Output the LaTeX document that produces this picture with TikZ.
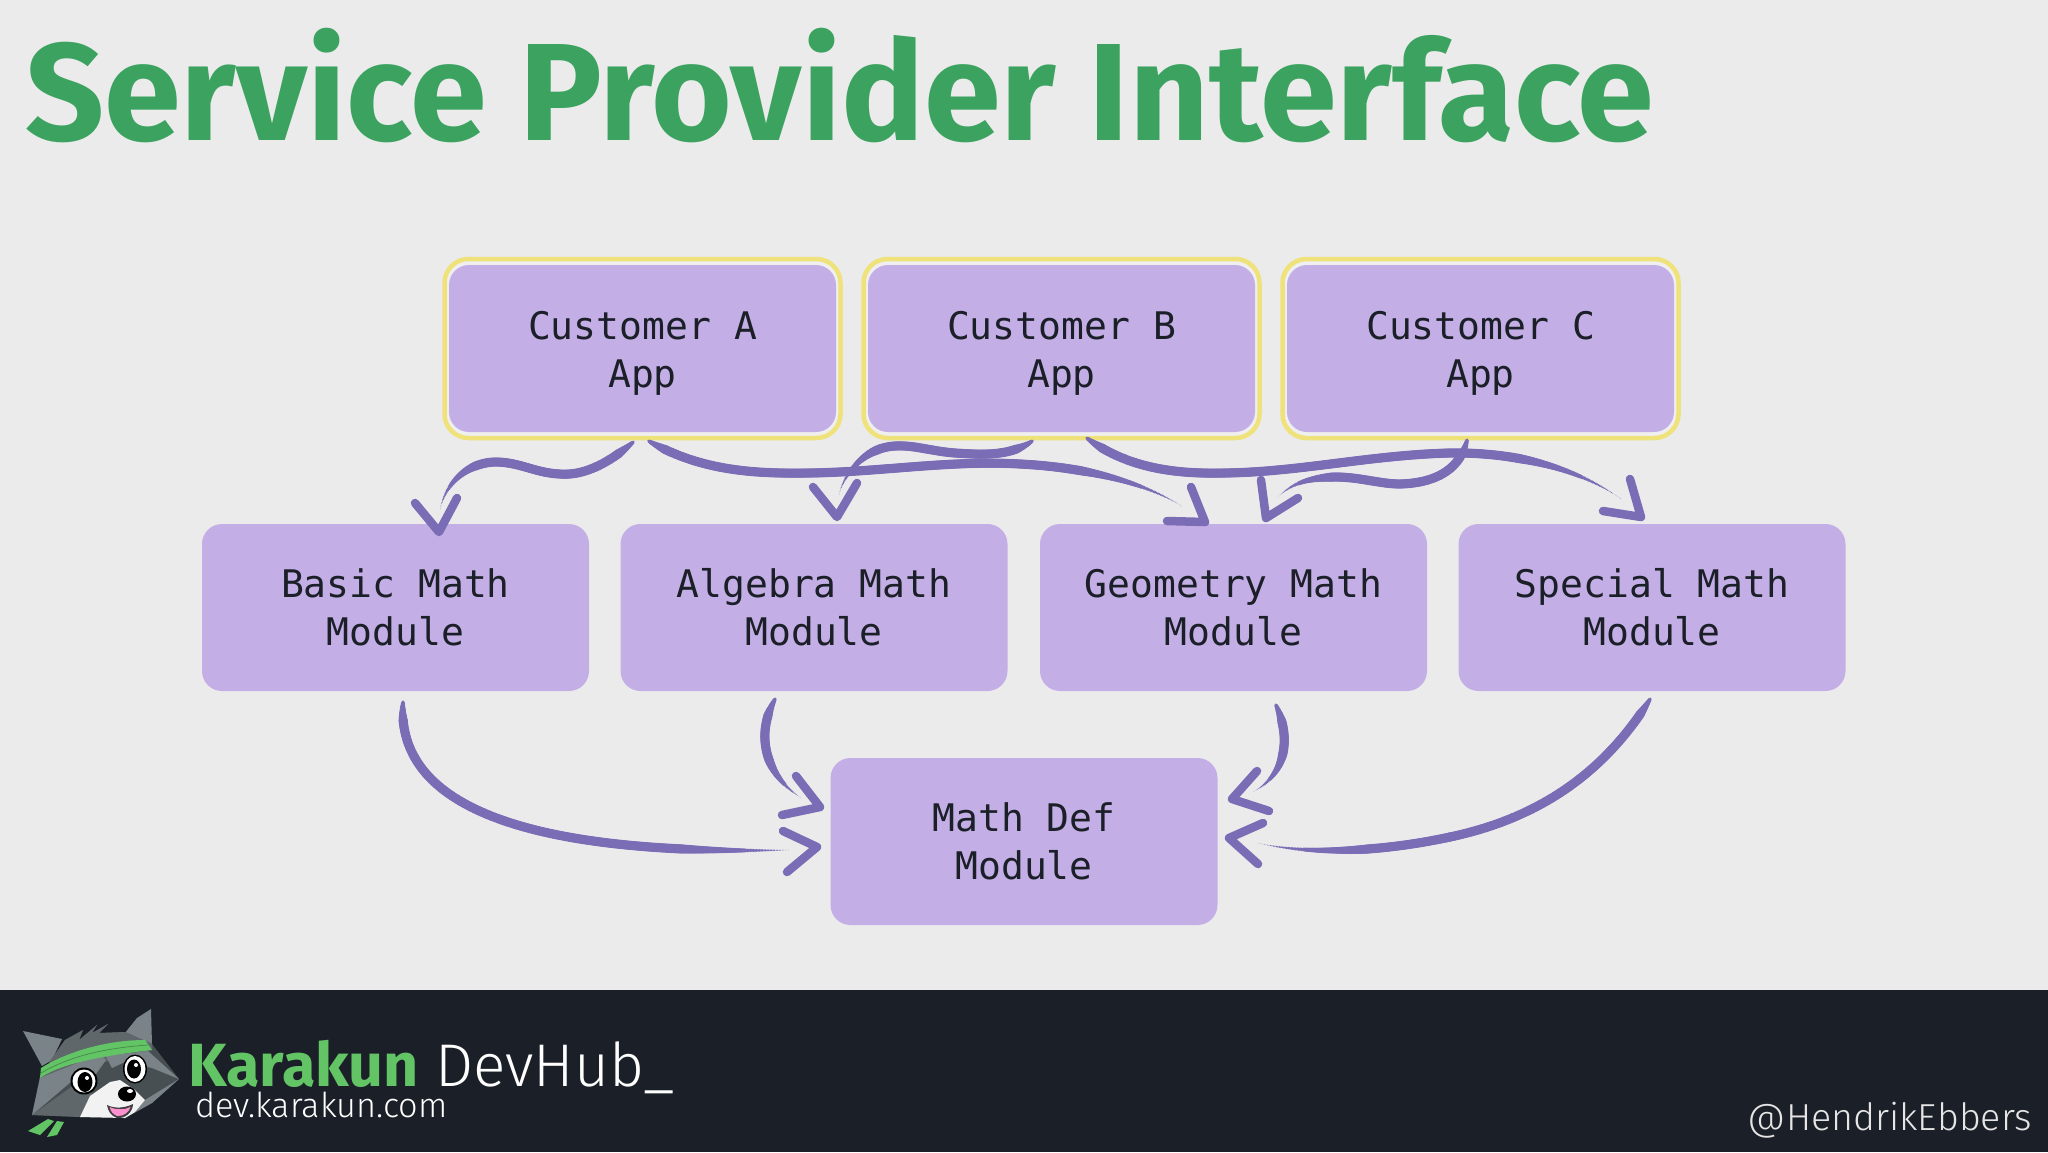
\documentclass[tikz,border=0pt]{standalone}
\usepackage{fontspec}
\usetikzlibrary{calc,decorations.markings}
\setmainfont{Fira Sans}
\newfontfamily\titlefont{Fira Sans}[UprightFont=*,BoldFont=* Bold]
\newfontfamily\lightfont{Fira Sans Light}
\newfontfamily\boxfont{DejaVu Sans Mono}
\definecolor{pagebg}{HTML}{EBEBEC}
\definecolor{boxfill}{HTML}{C4AEE6}
\definecolor{flowc}{HTML}{7B6DB5}
\definecolor{ringc}{HTML}{EFE27A}
\definecolor{titlec}{HTML}{3BA35F}
\definecolor{footc}{HTML}{1B1F28}
\definecolor{logogreen}{HTML}{62C465}
\definecolor{furlight}{HTML}{7A8488}
\definecolor{furmid}{HTML}{5F676A}
\definecolor{furdark}{HTML}{474F52}
\newcommand{\toprule}{\rule{0pt}{38.5pt}}
\tikzset{
  module/.style={fill=boxfill,rounded corners=20pt,minimum width=387pt,minimum height=167pt,inner sep=0pt,align=center,text=footc,font=\boxfont\fontsize{38}{48}\selectfont},
  ring/.style={draw=ringc,line width=4.5pt,fill=pagebg!80!white,rounded corners=24pt,minimum width=396pt,minimum height=179pt,inner sep=0pt},
  brush/.style={postaction={decorate,decoration={markings,mark=between positions 0 and 1 step 1.5pt with {%
    \pgfmathsetmacro\rr{max(0.3,4.7*min(1,min(0.4+\pgfkeysvalueof{/pgf/decoration/mark info/distance from start}/30,(\pgfdecoratedpathlength-\pgfkeysvalueof{/pgf/decoration/mark info/distance from start})/#1)))}%
    \fill[flowc] (0,0) circle (\rr pt);}}}},
  barb/.style={draw=flowc,line width=8.5pt,line join=round,line cap=round},
}
\begin{document}
\begin{tikzpicture}[x=1pt,y=-1pt]
\useasboundingbox (0,0) rectangle (2048,1152);
\fill[pagebg] (0,0) rectangle (2048,1152);
\fill[footc] (0,990) rectangle (2048,1152);
\node[anchor=base west,inner sep=0pt,text=titlec,font=\titlefont\bfseries\fontsize{138.5}{138.5}\selectfont] (title) at (25,140) {Service Provider Interface};

% boxes
\node[ring] (ringA) at (642.5,348.5) {};
\node[ring] (ringB) at (1061.5,348.5) {};
\node[ring] (ringC) at (1480.5,348.5) {};
\node[module] (custA) at (642.5,348.5) {\toprule Customer A\\App};
\node[module] (custB) at (1061.5,348.5) {\toprule Customer B\\App};
\node[module] (custC) at (1480.5,348.5) {\toprule Customer C\\App};
\node[module] (basic) at (395.5,607.5) {Basic Math\\Module};
\node[module] (algebra) at (814,607.5) {Algebra Math\\Module};
\node[module] (geometry) at (1233.5,607.5) {Geometry Math\\Module};
\node[module] (special) at (1652,607.5) {Special Math\\Module};
\node[module] (mathdef) at (1024,841.5) {Math Def\\Module};

% connectors
\path[brush=60] ($(custA.south)+(-9.5,10)$) .. controls (610,462) and (585,476) .. (560,474) .. controls (535,473) and (520,462) .. (495,462) .. controls (465,463) and (445,485) .. ($(basic.north)+(44.5,-14)$);
\draw[barb] (415,503) -- (439,532) -- (457,498);

\path[brush=110] ($(custA.south)+(6.5,9)$) .. controls (700,470) and (750,474) .. (810,473) .. controls (880,472) and (950,460) .. (1020,464) .. controls (1080,467) and (1140,480) .. ($(geometry.north)+(-50.5,-17)$);
\draw[barb] (1191,487) -- (1205,522) -- (1167,521);

\path[brush=60] ($(custB.south)+(-29.5,9)$) .. controls (1010,456) and (985,455) .. (955,453) .. controls (930,451) and (915,445) .. (895,446) .. controls (860,448) and (842,480) .. ($(algebra.north)+(25,-29)$);
\draw[barb] (813,487) -- (837,517) -- (857,483);

\path[brush=110] ($(custB.south)+(25.5,6)$) .. controls (1130,470) and (1180,474) .. (1225,473) .. controls (1300,472) and (1370,455) .. (1450,453) .. controls (1520,452) and (1580,470) .. ($(special.north)+(-31,-25)$);
\draw[barb] (1630,479) -- (1641,517) -- (1603,511);

\path[brush=60] ($(custC.south)+(-13.5,8)$) .. controls (1460,470) and (1435,483) .. (1400,484) .. controls (1380,484) and (1360,477) .. (1335,477) .. controls (1305,478) and (1290,485) .. ($(geometry.north)+(43.5,-26)$);
\draw[barb] (1261,480) -- (1266,518) -- (1298,498);

\path[brush=110] ($(basic.south)+(7.5,11)$) .. controls (396,800) and (510,856) .. ($(mathdef.west)+(-41,8.5)$);
\draw[barb] (783,831) -- (817,847) -- (787,872);

\path[brush=50] ($(algebra.south)+(-39,8)$) .. controls (755,735) and (765,775) .. ($(mathdef.west)+(-29,-43.5)$);
\draw[barb] (796,776) -- (820,807) -- (782,815);

\path[brush=50] ($(geometry.south)+(42.5,14)$) .. controls (1292,740) and (1285,775) .. ($(mathdef.east)+(35,-49.5)$);
\draw[barb] (1257,771) -- (1232,799) -- (1269,811);

\path[brush=110] ($(special.south)+(-2,8)$) .. controls (1600,780) and (1530,820) .. (1450,837) .. controls (1380,852) and (1310,855) .. ($(mathdef.east)+(40,1.5)$);
\draw[barb] (1263,823) -- (1229,838) -- (1258,864);

% footer text
\node[anchor=base west,inner sep=0pt,text=logogreen,font=\titlefont\bfseries\fontsize{61}{61}\selectfont] (kara) at (188,1086) {Karakun};
\node[anchor=base west,inner sep=0pt,text=white,font=\lightfont\fontsize{60.3}{60.3}\selectfont] (hub) at (435,1086) {DevHub\_};
\node[anchor=base west,inner sep=0pt,text=white,font=\lightfont\fontsize{34.3}{34.3}\selectfont] (site) at (195,1117) {dev.karakun.com};
\node[anchor=base east,inner sep=0pt,text=white!90!black,font=\lightfont\fontsize{37.6}{37.6}\selectfont] (handle) at (2032,1130) {@HendrikEbbers};

% logo
\begin{scope}
\fill[logogreen] (28,1131) -- (48,1119) -- (54,1121) -- (40,1135) -- cycle;
\fill[logogreen] (47,1137) -- (57,1121) -- (64,1122) -- (57,1135) -- cycle;
\fill[furlight] (23,1031) -- (62,1039) -- (52,1060) -- (42,1066) -- cycle;
\fill[furlight] (151,1009) -- (152,1044) -- (125,1033) -- (137,1018) -- cycle;
\fill[furdark] (53,1057) -- (65,1040) -- (83,1030) -- (79,1040) -- (97,1025) -- (92,1033) -- (108,1024) -- (99,1033) -- (125,1032) -- (152,1044) -- (179,1079) -- (152,1103) -- (125,1118) -- (80,1117) -- (32,1115) -- (40,1076) -- cycle;
\fill[furmid] (53,1057) -- (65,1040) -- (83,1030) -- (79,1040) -- (97,1025) -- (92,1033) -- (108,1024) -- (99,1033) -- (125,1032) -- (152,1044) -- (152,1050) -- (40,1078) -- cycle;
\fill[furlight] (40,1078) -- (32,1115) -- (72,1081) -- (80,1062) -- cycle;
\fill[furlight] (78,1062) -- (100,1054) -- (106,1060) -- (96,1074) -- (72,1081) -- cycle;
\fill[furlight] (106,1056) -- (148,1051) -- (179,1079) -- (152,1068) -- (125,1062) -- (112,1068) -- cycle;
\fill[furmid] (32,1115) -- (80,1117) -- (92,1093) -- (74,1085) -- cycle;
\fill[furlight] (145,1100) -- (179,1079) -- (152,1103) -- (125,1118) -- (135,1112) -- cycle;
\fill[white!95!black] (80,1117) -- (90,1096) -- (110,1082) -- (120,1080) -- (135,1090) -- (145,1100) -- (135,1112) -- (125,1118) -- cycle;
\fill[logogreen] (40,1078) .. controls (60,1064) and (100,1056) .. (152,1050) -- (145,1040) .. controls (110,1040) and (70,1050) .. (41,1068) -- cycle;
\draw[logogreen!70!black,line width=0.7pt] (41,1073) .. controls (70,1056) and (105,1048) .. (148,1045);
\fill[black] (84,1081) circle (13.5);
\fill[white] (84,1081) circle (11.5);
\fill[black] (85,1082) ellipse (7.5 and 10);
\fill[white] (87,1078) circle (2);
\fill[black] (135,1069) ellipse (12 and 14.5);
\fill[white] (135,1069) ellipse (10.5 and 13);
\fill[black] (134,1069) ellipse (7 and 9.5);
\fill[white] (136,1065) circle (2);
\fill[black] (127,1094) ellipse (9 and 7.5);
\fill[white] (130,1091) ellipse (3 and 2);
\fill[black!75] (107,1105) .. controls (115,1109) and (125,1108) .. (133,1104) .. controls (133,1112) and (125,1119) .. (117,1118) .. controls (111,1116) and (108,1111) .. (107,1105) -- cycle;
\fill[pink!75!magenta] (109.5,1107) .. controls (116,1110) and (125,1110) .. (130.5,1107) .. controls (129,1112) and (124,1116.5) .. (117,1116) .. controls (113,1114) and (111,1112) .. (109.5,1107) -- cycle;
\end{scope}
\end{tikzpicture}
\end{document}
